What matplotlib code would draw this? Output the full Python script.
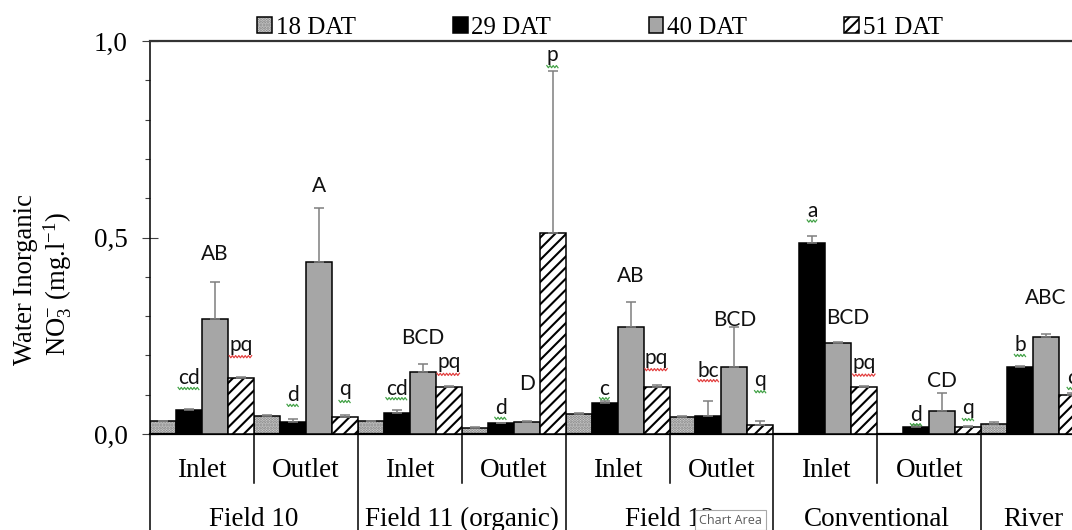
import numpy as np
import matplotlib
matplotlib.use("Agg")
import matplotlib.pyplot as plt
from matplotlib.patches import Patch
from matplotlib.lines import Line2D
from matplotlib.ticker import MultipleLocator

# ---------------- data ----------------
sites = ["Inlet", "Outlet", "Inlet", "Outlet", "Inlet", "Outlet", "Inlet", "Outlet", ""]
fields = ["Field 10", "Field 11 (organic)", "Field 12", "Conventional", "River"]
field_span = [2, 2, 2, 2, 1]
series = ["18 DAT", "29 DAT", "40 DAT", "51 DAT"]

d18 = [0.032, 0.046, 0.032, 0.016, 0.051, 0.043, np.nan, np.nan, 0.025]
d29 = [0.060, 0.030, 0.053, 0.027, 0.080, 0.047, 0.485, 0.019, 0.171]
d40 = [0.293, 0.438, 0.159, 0.030, 0.271, 0.171, 0.231, 0.059, 0.246]
d51 = [0.143, 0.042, 0.120, 0.511, 0.120, 0.024, 0.120, 0.018, 0.099]

e18 = [0.002, 0.002, 0.002, 0.002, 0.002, 0.002, np.nan, np.nan, 0.006]
e29 = [0.003, 0.008, 0.008, 0.002, 0.003, 0.036, 0.020, 0.003, 0.002]
e40 = [0.093, 0.137, 0.018, 0.002, 0.066, 0.100, 0.002, 0.046, 0.008]
e51 = [0.002, 0.006, 0.002, 0.413, 0.004, 0.009, 0.002, 0.002, 0.006]

letters29 = ["cd", "d", "cd", "d", "c", "bc", "a", "d", "b"]
letters40 = ["AB", "A", "BCD", "D", "AB", "BCD", "BCD", "CD", "ABC"]
letters51 = ["pq", "q", "pq", "p", "pq", "q", "pq", "q", "c"]
letter_y29 = [0.126, 0.083, 0.100, 0.050, 0.100, 0.146, 0.552, 0.034, 0.210]
letter_y40 = [0.444, 0.615, 0.228, 0.113, 0.386, 0.274, 0.281, 0.119, 0.330]
letter_y51 = [0.212, 0.098, 0.167, 0.950, 0.179, 0.123, 0.165, 0.052, 0.126]
letter_nudge40 = [0, 0, 0, 0, 0, 0, 0.09, 0, 0]

yticks = [0.0, 0.5, 1.0]
yticklabels = ["0,0", "0,5", "1,0"]

# ---------------- style ----------------
plt.rcParams["hatch.linewidth"] = 1.5
plt.rcParams["mathtext.fontset"] = "custom"
plt.rcParams["mathtext.rm"] = "Liberation Serif"
plt.rcParams["mathtext.it"] = "Liberation Serif:italic"
SERIF = ["Liberation Serif", "DejaVu Serif"]
SANS = ["Lato", "DejaVu Sans"]

W, H = 1072, 530
fig = plt.figure(figsize=(W / 100, H / 100), dpi=100)
ax = fig.add_axes([150 / W, 1 - 434 / H, (W - 150) / W, 393 / H])

n = len(sites)
x = np.arange(n)
bw = 0.25
c18, c40 = "#dcdcdc", "#a6a6a6"

ax.bar(x + 0.125, d18, bw, color=c18, edgecolor="#7a7a7a", hatch="......", linewidth=0, zorder=2)
ax.bar(x + 0.125, d18, bw, fill=False, edgecolor="black", linewidth=1.1, zorder=3)
ax.bar(x + 0.375, d29, bw, color="black", edgecolor="black", linewidth=1.1, zorder=3)
ax.bar(x + 0.625, d40, bw, color=c40, edgecolor="black", linewidth=1.1, zorder=3)
ax.bar(x + 0.875, d51, bw, color="white", edgecolor="black", hatch="///", linewidth=1.1, zorder=3)

for off, vals, errs in [(0.125, d18, e18), (0.375, d29, e29), (0.625, d40, e40), (0.875, d51, e51)]:
    v = np.array(vals, dtype=float)
    e = np.array(errs, dtype=float)
    ax.errorbar(x + off, v, yerr=[np.zeros_like(e), e], fmt="none", ecolor="#7f7f7f",
                elinewidth=1.1, capsize=3.8, capthick=1.1, zorder=4)

ax.set_xlim(0, (W - 150) / 103.9)
ax.set_ylim(0, 1.0)
ax.set_xticks([])
ax.set_yticks(yticks)
ax.set_yticklabels(yticklabels, fontsize=19.5, family=SERIF)
ax.yaxis.set_minor_locator(MultipleLocator(0.1))
ax.tick_params(axis="y", which="major", direction="inout", length=11.5, width=0.8,
               color="#404040", pad=10.5)
ax.tick_params(axis="y", which="minor", direction="out", length=3.8, width=0.8, color="#404040")

ax.spines["right"].set_visible(False)
ax.spines["left"].set_linewidth(1.1)
ax.spines["bottom"].set_linewidth(1.6)
ax.spines["top"].set_linewidth(1.6)
ax.spines["top"].set_color("#333333")

# ---------------- category table ----------------
tr = ax.get_xaxis_transform()
for i, s in enumerate(sites):
    if s:
        ax.text(i + 0.5, -0.109, s, transform=tr, ha="center", va="baseline",
                fontsize=19.5, family=SERIF, clip_on=False)
pos = 0
for f, sp in zip(fields, field_span):
    ax.text(pos + sp / 2, -0.233, f, transform=tr, ha="center", va="baseline",
            fontsize=19.5, family=SERIF, clip_on=False)
    pos += sp
    ax.plot([pos, pos], [0, -0.35], transform=tr, color="black", lw=1.1, clip_on=False, zorder=5)
ax.plot([0, 0], [0, -0.35], transform=tr, color="black", lw=1.1, clip_on=False, zorder=5)
for b in [1, 3, 5, 7]:
    ax.plot([b, b], [0, -0.125], transform=tr, color="black", lw=1.1, clip_on=False, zorder=5)

# ---------------- significance letters ----------------
letter_texts = []
for off, labs, ys, nud in [(0.375, letters29, letter_y29, [0] * n),
                           (0.625, letters40, letter_y40, letter_nudge40),
                           (0.875, letters51, letter_y51, [0] * n)]:
    for i, (lab, yy, dx) in enumerate(zip(labs, ys, nud)):
        t = ax.text(i + off + dx, yy, lab, ha="center", va="baseline", fontsize=15,
                    family=SANS, color="#111111", clip_on=False, zorder=6)
        letter_texts.append((t, yy, lab))

# ---------------- y label ----------------
fig.text(26 / W, 1 - 280 / H, "Water Inorganic", rotation=90, ha="center", va="center",
         fontsize=19.2, family=SERIF)
fig.text(58 / W, 1 - 284 / H, r"NO$_3^{-}$ (mg.l$^{-1}$)", rotation=90, ha="center",
         va="center", fontsize=19.2, family=SERIF)

# ---------------- legend ----------------
handles = [
    (Patch(facecolor=c18, edgecolor="#7a7a7a", hatch="......", linewidth=0),
     Patch(fill=False, edgecolor="black", linewidth=1.1)),
    Patch(facecolor="black", edgecolor="black", linewidth=1.1),
    Patch(facecolor=c40, edgecolor="black", linewidth=1.1),
    Patch(facecolor="white", edgecolor="black", hatch="///", linewidth=1.1),
]
fig.legend(handles, series, loc="center", bbox_to_anchor=(600 / W, 1 - 28 / H), ncol=4,
           frameon=False, handlelength=0.58, handleheight=0.58, handletextpad=0.15,
           columnspacing=3.9, borderpad=0, borderaxespad=0,
           prop={"family": SERIF, "size": 18})

# ---------------- tooltip artifact ----------------
fig.text(699 / W, 1 - 520 / H, "Chart Area", fontsize=9, color="#5a5a5a",
         family=["Open Sans", "DejaVu Sans"], ha="left", va="center", zorder=20,
         bbox=dict(boxstyle="square,pad=0.3", fc="white", ec="#a8a8a8", lw=0.8))

# ---------------- spell-check squiggles ----------------
fig.canvas.draw()
renderer = fig.canvas.get_renderer()
for t, yy, lab in letter_texts:
    if lab != lab.lower():
        continue
    color = "#e23b3b" if lab in ("pq", "bc") else "#3fa043"
    bb = t.get_window_extent(renderer)
    _, yb = ax.transData.transform((0, yy))
    desc = any(ch in "pq" for ch in lab)
    y0 = yb - (6.0 if desc else 4.0)
    xs = np.arange(bb.x0, bb.x1 + 0.5, 1.6)
    ys = y0 + np.where(np.arange(len(xs)) % 2 == 0, 1.1, -1.1)
    fig.add_artist(Line2D(xs / W, ys / H, transform=fig.transFigure, color=color,
                          lw=0.85, zorder=7))

fig.savefig("out.png", dpi=100)
